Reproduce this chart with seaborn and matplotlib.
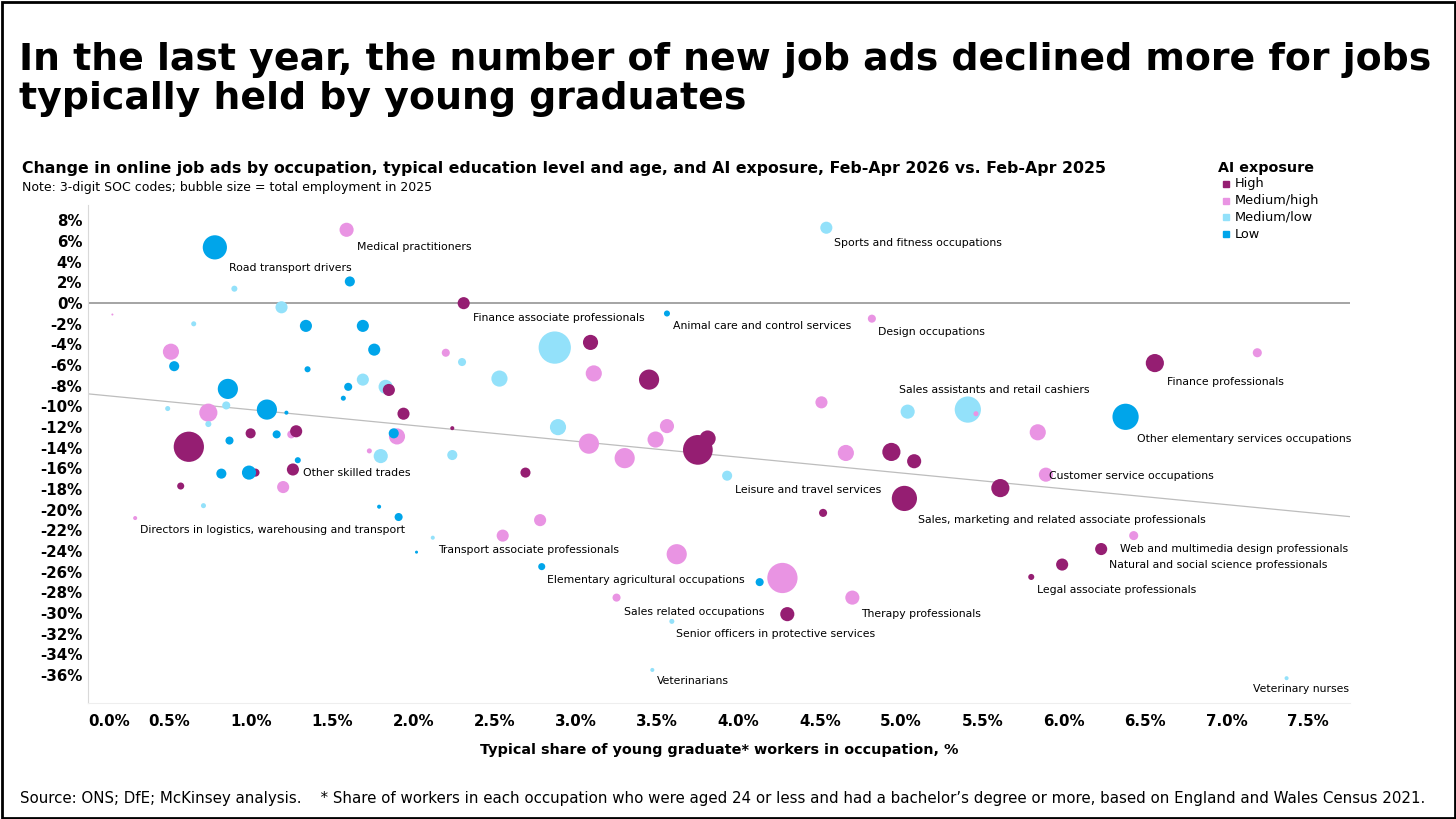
import numpy as np
import pandas as pd
import seaborn as sns
import matplotlib.pyplot as plt
from matplotlib.lines import Line2D
from matplotlib.patches import Rectangle

# typical share of young graduate workers, %
share = [0.78, 1.59, 1.61, 0.90, 2.31, 0.15, 1.19, 0.65, 1.34, 1.69,
         0.51, 0.53, 1.76, 1.35, 2.20, 2.30, 1.69, 1.83, 1.85, 0.86,
         1.60, 1.57, 0.49, 0.85, 0.74, 1.10, 1.22, 1.94, 0.74, 2.24,
         1.00, 0.87, 1.16, 1.25, 1.28, 1.90, 1.88, 0.62, 1.73, 1.80,
         2.24, 1.29, 0.82, 1.03, 0.99, 1.26, 0.57, 1.20, 0.71, 1.79,
         1.91, 0.29, 2.12, 2.02, 2.87, 3.09, 3.56, 2.53, 3.11, 3.45,
         4.51, 2.89, 3.56, 3.08, 3.49, 3.81, 3.75, 3.30, 3.93, 2.69,
         4.66, 2.78, 2.55, 3.62, 2.79, 4.13, 4.27, 4.70, 3.25, 4.30,
         3.59, 3.47, 4.52, 4.54, 4.82, 6.56, 7.19, 5.04, 5.41, 5.46,
         6.38, 5.84, 4.94, 5.08, 5.89, 5.61, 5.02, 6.43, 6.23, 5.99,
         5.80, 7.37]

# change in online job ads, %
change = [5.4, 7.1, 2.1, 1.4, 0.0, -1.1, -0.4, -2.0, -2.2, -2.2,
          -4.7, -6.1, -4.5, -6.4, -4.8, -5.7, -7.4, -8.1, -8.4, -8.3,
          -8.1, -9.2, -10.2, -9.9, -10.6, -10.3, -10.6, -10.7, -11.7, -12.1,
          -12.6, -13.3, -12.7, -12.7, -12.4, -12.9, -12.6, -13.9, -14.3, -14.8,
          -14.7, -15.2, -16.5, -16.4, -16.4, -16.1, -17.7, -17.8, -19.6, -19.7,
          -20.7, -20.8, -22.7, -24.1, -4.3, -3.8, -1.0, -7.3, -6.8, -7.4,
          -9.6, -12.0, -11.9, -13.6, -13.2, -13.1, -14.2, -15.0, -16.7, -16.4,
          -14.5, -21.0, -22.5, -24.3, -25.5, -27.0, -26.6, -28.5, -28.5, -30.1,
          -30.8, -35.5, -20.3, 7.3, -1.5, -5.8, -4.8, -10.5, -10.3, -10.7,
          -11.0, -12.5, -14.4, -15.3, -16.6, -17.9, -18.9, -22.5, -23.8, -25.3,
          -26.5, -36.3]

H, MH, ML, L = "High", "Medium/high", "Medium/low", "Low"
exposure = [L, MH, L, ML, H, MH, ML, ML, L, L,
            MH, L, L, L, MH, ML, ML, ML, H, L,
            L, L, ML, ML, MH, L, L, H, ML, H,
            H, L, L, MH, H, MH, L, H, MH, ML,
            ML, L, L, H, L, H, H, MH, ML, L,
            L, MH, ML, L, ML, H, L, ML, MH, H,
            MH, ML, MH, MH, MH, H, H, MH, ML, H,
            MH, MH, MH, MH, L, L, MH, MH, MH, H,
            ML, ML, H, ML, MH, H, MH, ML, ML, MH,
            L, MH, H, H, MH, H, H, MH, H, H,
            H, ML]

# total employment in 2025, thousands
employment = [576, 196, 100, 36, 144, 4, 144, 25, 144, 144,
              256, 100, 144, 36, 64, 64, 144, 196, 144, 400,
              64, 25, 25, 64, 324, 400, 16, 144, 36, 16,
              100, 64, 64, 64, 144, 256, 100, 900, 25, 196,
              100, 36, 100, 64, 196, 144, 49, 144, 25, 16,
              64, 16, 16, 9, 1024, 225, 36, 256, 256, 400,
              144, 256, 196, 400, 256, 256, 870, 400, 100, 100,
              256, 144, 144, 400, 49, 64, 900, 196, 64, 196,
              25, 16, 64, 144, 64, 324, 81, 196, 676, 25,
              676, 256, 324, 196, 196, 324, 625, 81, 144, 144,
              36, 16]

labelled = {
    0: "Road transport drivers",
    1: "Medical practitioners",
    4: "Finance associate professionals",
    45: "Other skilled trades",
    51: "Directors in logistics, warehousing and transport",
    52: "Transport associate professionals",
    56: "Animal care and control services",
    68: "Leisure and travel services",
    74: "Elementary agricultural occupations",
    77: "Therapy professionals",
    78: "Sales related occupations",
    80: "Senior officers in protective services",
    81: "Veterinarians",
    83: "Sports and fitness occupations",
    84: "Design occupations",
    85: "Finance professionals",
    88: "Sales assistants and retail cashiers",
    90: "Other elementary services occupations",
    94: "Customer service occupations",
    96: "Sales, marketing and related associate professionals",
    98: "Web and multimedia design professionals",
    99: "Natural and social science professionals",
    100: "Legal associate professionals",
    101: "Veterinary nurses",
}

x_ticks = [0.0, 0.5, 1.0, 1.5, 2.0, 2.5, 3.0, 3.5, 4.0, 4.5, 5.0, 5.5, 6.0, 6.5, 7.0, 7.5]
y_ticks = list(range(-36, 9, 2))

# label placement, pixel offsets from the bubble centre
label_offsets = {
    "Road transport drivers": (14, -21),
    "Medical practitioners": (10, -17),
    "Finance associate professionals": (9, -15),
    "Other skilled trades": (10, -4),
    "Directors in logistics, warehousing and transport": (5, -12),
    "Transport associate professionals": (5, -12),
    "Animal care and control services": (6, -13),
    "Leisure and travel services": (8, -14),
    "Elementary agricultural occupations": (5, -13),
    "Therapy professionals": (9, -16),
    "Sales related occupations": (7, -14),
    "Senior officers in protective services": (4, -13),
    "Veterinarians": (5, -11),
    "Sports and fitness occupations": (8, -15),
    "Design occupations": (6, -13),
    "Finance professionals": (12, -19),
    "Sales assistants and retail cashiers": (-69, 20),
    "Other elementary services occupations": (11, -22),
    "Customer service occupations": (3, -1),
    "Sales, marketing and related associate professionals": (14, -22),
    "Web and multimedia design professionals": (19, 0),
    "Natural and social science professionals": (47, 0),
    "Legal associate professionals": (6, -13),
    "Veterinary nurses": (-34, -11),
}

colors = {H: "#951E72", MH: "#E994E3", ML: "#93E1FA", L: "#00A5EA"}

df = pd.DataFrame({"share": share, "change": change,
                   "exposure": exposure, "employment": employment})

sns.set_style("white")
plt.rcParams["font.family"] = ["DejaVu Sans"]
plt.rcParams["text.color"] = "black"
plt.rcParams["axes.labelcolor"] = "black"
plt.rcParams["xtick.color"] = "black"
plt.rcParams["ytick.color"] = "black"

W, Hpx = 1456, 819
fig = plt.figure(figsize=(W / 100, Hpx / 100), dpi=100)
ax = fig.add_axes([88 / W, 1 - 703 / Hpx, (1350 - 88) / W, (703 - 205) / Hpx])

ax.axhline(0, color="#8C8C8C", lw=1.1, zorder=1)

# linear trend
slope, intercept = np.polyfit(df["share"], df["change"], 1)
xs = np.array([0, 7.76])
ax.plot(xs, intercept + slope * xs, color="#BDBDBD", lw=0.9, zorder=1)

sns.scatterplot(data=df, x="share", y="change", hue="exposure", size="employment",
                hue_order=[H, MH, ML, L], palette=colors,
                sizes=(0, 540), size_norm=(0, 1024),
                linewidth=0, alpha=1, legend=False, ax=ax, zorder=3)

for i, name in labelled.items():
    dx, dy = label_offsets[name]
    ax.annotate(name, (share[i], change[i]), xytext=(dx, dy), textcoords="offset pixels",
                ha="left", va="center", fontsize=7.8, color="black", zorder=4)

ax.set_xlim(0, 7.76)
ax.set_ylim(-38.7, 9.5)
ax.set_xticks(x_ticks)
ax.set_xticklabels([f"{v:.1f}%" for v in x_ticks], fontweight="bold", fontsize=10.8)
ax.set_yticks(y_ticks)
ax.set_yticklabels([f"{v}%" for v in y_ticks], fontweight="bold", fontsize=10.8)
ax.xaxis.get_majorticklabels()[0].set_horizontalalignment("left")
ax.tick_params(length=0)
ax.tick_params(axis="y", pad=4)
ax.tick_params(axis="x", pad=8)
for s in ["top", "right"]:
    ax.spines[s].set_visible(False)
ax.spines["left"].set_color("#D9D9D9")
ax.spines["bottom"].set_color("#EEEEEE")
ax.set_xlabel("Typical share of young graduate* workers in occupation, %",
              fontweight="bold", fontsize=10.4)
ax.xaxis.set_label_coords(0.5, (703 - 750) / (703 - 205))
ax.xaxis.label.set_va("center")
ax.set_ylabel("")

fig.text(19 / W, 1 - 42 / Hpx,
         "In the last year, the number of new job ads declined more for jobs\ntypically held by young graduates",
         fontsize=27.3, fontweight="bold", va="top", ha="left", linespacing=1.12)
fig.text(22 / W, 1 - 169 / Hpx,
         "Change in online job ads by occupation, typical education level and age, and AI exposure, Feb-Apr 2026 vs. Feb-Apr 2025",
         fontsize=11.35, fontweight="bold", va="center")
fig.text(22 / W, 1 - 187 / Hpx, "Note: 3-digit SOC codes; bubble size = total employment in 2025",
         fontsize=9.0, va="center")
fig.text(20 / W, 1 - 798 / Hpx,
         "Source: ONS; DfE; McKinsey analysis.    * Share of workers in each occupation who were aged 24 or less "
         "and had a bachelor\u2019s degree or more, based on England and Wales Census 2021.",
         fontsize=10.8, va="center")

# legend
fig.text(1218 / W, 1 - 168 / Hpx, "AI exposure", fontsize=10.3, fontweight="bold", va="center")
for k, cat in enumerate([H, MH, ML, L]):
    yy = 1 - (184 + 16.7 * k) / Hpx
    fig.add_artist(Line2D([1226 / W], [yy], marker="s", markersize=4.5, color=colors[cat],
                          linestyle="none", transform=fig.transFigure))
    fig.text(1235 / W, yy, cat, fontsize=9.3, va="center")

fig.add_artist(Rectangle((1.5 / W, 1.5 / Hpx), 1 - 3 / W, 1 - 3 / Hpx, transform=fig.transFigure,
                         fill=False, ec="black", lw=2))

fig.savefig("out.png", dpi=100)
